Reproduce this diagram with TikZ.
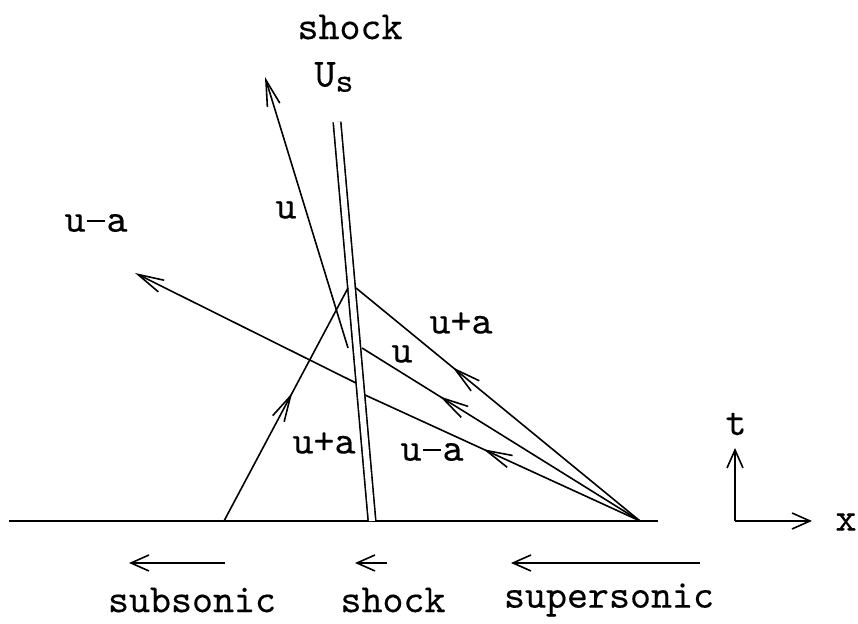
\documentclass[tikz,border=0pt]{standalone}
\usepackage{fontspec}
\newfontfamily\plotfont{lmmono10-regular.otf}[FakeBold=0.25]
\usetikzlibrary{arrows.meta, decorations.markings}

% long minus for the typewriter labels
\newcommand{\mns}{\makebox[0.525em]{\rule[0.24em]{0.46em}{0.055em}}}

\begin{document}
\begin{tikzpicture}[
	x=0.5pt, y=-0.5pt,
	line width=0.8pt,
	font=\plotfont\fontsize{20}{24}\selectfont,
	% Define styles
	ray/.style={-{Straight Barb[length=13pt, width=6.5pt]}},
	midray/.style={postaction={decorate, decoration={markings, mark=at position #1 with {\arrow{Straight Barb[length=13pt, width=6.5pt]}}}}},
	flow/.style={-{Straight Barb[length=9pt, width=8pt]}},
	shockline/.style={double, double distance=3pt},
	ground/.style={line width=1.2pt},
	lbl/.style={inner sep=0pt}
	]
	\useasboundingbox (0,0) rectangle (858,624);
	
	% 1. Ground and shock
	\coordinate (gl) at (9,521);
	\coordinate (gr) at (658,521);
	\coordinate (stop) at (337,122);
	\coordinate (sbot) at (372,521);
	\draw[ground] (gl) -- (gr);
	\draw[shockline] (stop) -- (sbot);
	
	\node[lbl] (shocktxt) at (350,27) {shock};
	\node[lbl] (speed) at (334,77) {U\raisebox{-0.3ex}{\fontsize{17}{19}\selectfont s}};
	
	% 2. Fan on the supersonic side
	\coordinate (fan) at (640,521);
	\coordinate (rp) at (356,288);
	\coordinate (ru) at (362,348);
	\coordinate (rm) at (365,395);
	\draw[midray=0.66] (fan) -- (rp);
	\draw[midray=0.72] (fan) -- (ru);
	\draw[midray=0.57] (fan) -- (rm);
	
	\node[lbl] (rplbl) at (461,323) {u+a};
	\node[lbl] (rulbl) at (402,354) {u};
	\node[lbl] (rmlbl) at (432,452) {u\mns a};
	
	% 3. Subsonic side
	\coordinate (lpa) at (224,521);
	\coordinate (lp) at (348,288);
	\coordinate (lu) at (348,348);
	\coordinate (luend) at (265,77);
	\coordinate (lm) at (356,383);
	\coordinate (lmend) at (135,273);
	\draw[midray=0.55] (lpa) -- (lp);
	\draw[ray] (lu) -- (luend);
	\draw[ray] (lm) -- (lmend);
	
	\node[lbl] (lplbl) at (324,443) {u+a};
	\node[lbl] (lulbl) at (286,210) {u};
	\node[lbl] (lmlbl) at (96,223) {u\mns a};
	
	% 4. Axes
	\coordinate (orig) at (735,521);
	\coordinate (tend) at (735,448);
	\coordinate (xend) at (812,521);
	\draw[flow] (orig) -- (tend);
	\draw[flow] (orig) -- (xend);
	\node[lbl] (tlbl) at (736,424) {t};
	\node[lbl] (xlbl) at (846,522) {x};
	
	% 5. Flow directions
	\coordinate (sub1) at (225,563);
	\coordinate (sub2) at (129,563);
	\coordinate (sh1) at (387,563);
	\coordinate (sh2) at (355,563);
	\coordinate (sup1) at (700,563);
	\coordinate (sup2) at (511,563);
	\draw[flow] (sub1) -- (sub2);
	\draw[flow] (sh1) -- (sh2);
	\draw[flow] (sup1) -- (sup2);
	\node[lbl] (subtxt) at (192,600) {subsonic};
	\node[lbl] (shtxt) at (393,600) {shock};
	\node[lbl] (suptxt) at (609,600) {supersonic};
\end{tikzpicture}
\end{document}
